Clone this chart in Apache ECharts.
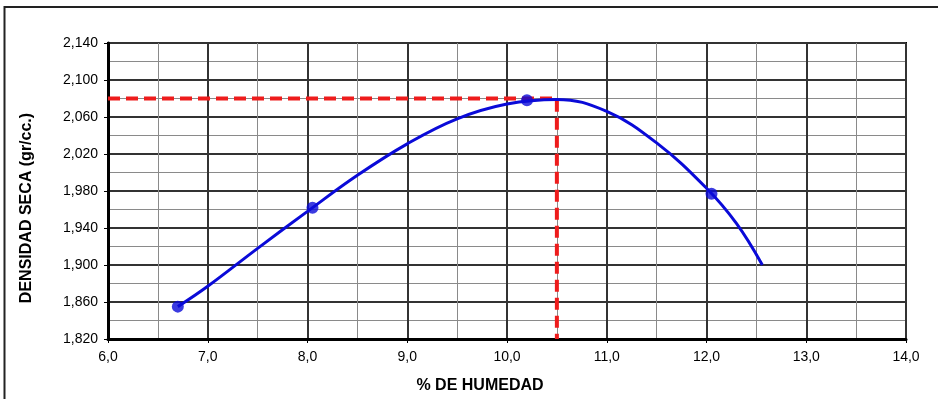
<!DOCTYPE html>
<html>
<head>
<meta charset="utf-8">
<script src="https://cdn.jsdelivr.net/npm/echarts@6/dist/echarts.min.js"></script>
<style>
  html, body { margin: 0; padding: 0; background: #fff; }
  #chart { width: 938px; height: 399px; }
</style>
</head>
<body>
<div id="chart"></div>
<script>
// puntos del ensayo proctor
const ensayoHumedad = [6.7, 8.05, 10.2, 12.05]
const ensayoDensidad = [1855, 1962, 2078, 1977]

// curva de compactacion
const curvaHumedad = [6.7, 7.0, 7.5, 8.0, 8.5, 9.0, 9.5, 10.0, 10.5, 11.0, 11.5, 12.0, 12.3, 12.56]
const curvaDensidad = [1855, 1877, 1918, 1958, 1997, 2031, 2058, 2074, 2079, 2066, 2032, 1983, 1945, 1900]

// humedad optima / densidad maxima
const humedadOptima = 10.5
const densidadMaxima = 2080

const xMin = 6, xMax = 14, yMin = 1820, yMax = 2140

const chart = echarts.init(document.getElementById('chart'))

const fmtX = (v) => v.toFixed(1).replace('.', ',')
const fmtY = (v) => {
  const s = String(Math.round(v))
  return s.slice(0, s.length - 3) + ',' + s.slice(-3)
}

const option = {
  backgroundColor: '#fff',
  animation: false,
  textStyle: { fontFamily: 'Liberation Sans, Arial, sans-serif' },
  graphic: [
    {
      type: 'rect',
      shape: { x: 4.5, y: 7, width: 950, height: 420 },
      style: { fill: 'none', stroke: '#222', lineWidth: 2 },
      z: -1,
    },
  ],
  grid: {
    left: 108,
    top: 43,
    right: 32,
    bottom: 60,
    outerBoundsMode: 'none',
    show: true,
    borderColor: '#000',
    borderWidth: 2,
  },
  xAxis: {
    type: 'value',
    min: xMin,
    max: xMax,
    interval: 1,
    name: '% DE HUMEDAD',
    nameLocation: 'middle',
    nameGap: 39,
    nameTextStyle: { fontSize: 16, fontWeight: 'bold', color: '#000', padding: [0, 54, 0, 0] },
    axisLine: { show: true, lineStyle: { color: '#000', width: 3 } },
    axisTick: { show: true, length: 4, lineStyle: { color: '#000' } },
    axisLabel: { color: '#000', fontSize: 14, margin: 11, formatter: fmtX },
    splitLine: { show: true, lineStyle: { color: '#333', width: 2 } },
    minorTick: { show: false, splitNumber: 2 },
    minorSplitLine: { show: true, lineStyle: { color: '#8a8a8a', width: 1 } },
  },
  yAxis: {
    type: 'value',
    min: yMin,
    max: yMax,
    interval: 40,
    name: 'DENSIDAD SECA (gr/cc.)',
    nameLocation: 'middle',
    nameGap: 73,
    nameRotate: 90,
    nameTextStyle: { fontSize: 16, fontWeight: 'bold', color: '#000', padding: [0, 34, 0, 0] },
    axisLine: { show: true, lineStyle: { color: '#000', width: 3 } },
    axisTick: { show: true, length: 4, lineStyle: { color: '#000' } },
    axisLabel: { color: '#000', fontSize: 14, margin: 10, formatter: fmtY },
    splitLine: { show: true, lineStyle: { color: '#333', width: 2 } },
    minorTick: { show: false, splitNumber: 2 },
    minorSplitLine: { show: true, lineStyle: { color: '#8a8a8a', width: 1 } },
  },
  series: [
    {
      name: 'referencia',
      type: 'line',
      data: [
        [xMin, densidadMaxima],
        [humedadOptima, densidadMaxima],
        [humedadOptima, yMin],
      ],
      showSymbol: false,
      lineStyle: { color: '#ee1c1c', width: 4, type: [12, 6] },
      z: 3,
    },
    {
      name: 'curva',
      type: 'line',
      data: curvaHumedad.map((x, i) => [x, curvaDensidad[i]]),
      smooth: 0.4,
      showSymbol: false,
      lineStyle: { color: '#0a0ad8', width: 3 },
      z: 4,
    },
    {
      name: 'ensayos',
      type: 'scatter',
      data: ensayoHumedad.map((x, i) => [x, ensayoDensidad[i]]),
      symbolSize: 12,
      itemStyle: { color: '#0a0ad8' },
      z: 5,
    },
  ],
}

chart.setOption(option)
</script>
</body>
</html>
